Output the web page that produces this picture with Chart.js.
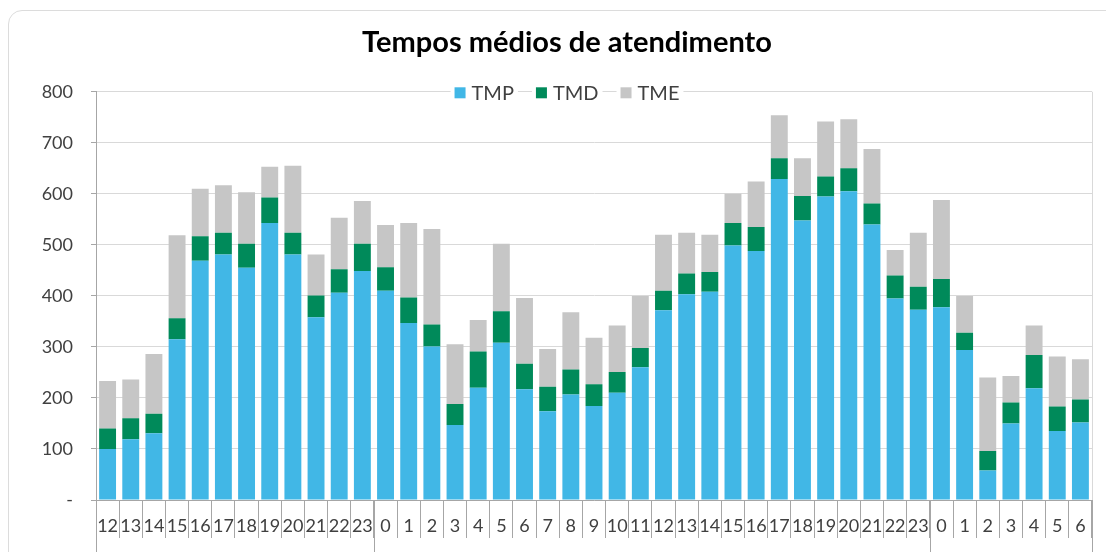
<!DOCTYPE html>
<html lang="pt">
<head>
    <meta charset="UTF-8">
    <title>Tempos médios de atendimento</title>
    <script src="https://cdn.jsdelivr.net/npm/chart.js"></script>
    <style>
        html, body {
            margin: 0;
            padding: 0;
            background: #fff;
            overflow: hidden;
        }

        /* card border around the chart */
        .card {
            position: absolute;
            left: 8px;
            top: 10px;
            width: 1140px;
            height: 600px;
            border: 1px solid #dcdcdc;
            border-radius: 14px;
        }

        .chart-box {
            position: absolute;
            left: 0;
            top: 0;
            width: 1134px;
            height: 552px;
        }
    </style>
</head>
<body>
    <div class="card"></div>
    <div class="chart-box">
        <canvas id="tempos"></canvas>
    </div>

    <script>
        // hours (x categories), three days in a row
        const hours = ['12', '13', '14', '15', '16', '17', '18', '19', '20', '21', '22', '23',
            '0', '1', '2', '3', '4', '5', '6', '7', '8', '9', '10', '11',
            '12', '13', '14', '15', '16', '17', '18', '19', '20', '21', '22', '23',
            '0', '1', '2', '3', '4', '5', '6'];

        // TMP series
        const tmp = [100, 119, 131, 315, 469, 481, 455, 543, 481, 358, 406, 449,
            410, 347, 301, 147, 220, 308, 217, 174, 207, 184, 210, 260,
            372, 403, 408, 499, 488, 629, 548, 595, 605, 540, 395, 373,
            378, 294, 58, 150, 219, 135, 152];

        // TMD series
        const tmd = [40, 41, 38, 41, 48, 43, 47, 50, 43, 43, 46, 53,
            46, 50, 43, 41, 71, 62, 50, 48, 49, 43, 41, 38,
            38, 41, 39, 44, 47, 41, 48, 39, 45, 41, 45, 45,
            55, 34, 38, 41, 65, 48, 45];

        // TME series
        const tme = [93, 76, 117, 163, 93, 93, 101, 60, 131, 80, 101, 84,
            83, 146, 187, 117, 62, 132, 129, 74, 112, 91, 91, 102,
            110, 80, 73, 57, 89, 84, 74, 108, 96, 107, 50, 106,
            155, 72, 144, 52, 58, 98, 79];

        const seriesNames = ['TMP', 'TMD', 'TME'];
        const seriesColors = ['#41b7e6', '#008a5a', '#c6c6c6'];

        const FONT = 'Lato, "Open Sans", sans-serif';

        // legend drawn inside the plot top, like the original
        const insideLegend = {
            id: 'insideLegend',
            afterDraw(chart) {
                const ctx = chart.ctx;
                const box = 11, gapText = 6, gapItem = 22;
                ctx.save();
                ctx.font = '20px ' + FONT;
                ctx.textBaseline = 'middle';
                const widths = chart.data.datasets.map(ds => ctx.measureText(ds.label).width);
                let total = 0;
                widths.forEach(w => total += box + gapText + w);
                total += gapItem * (widths.length - 1);
                let x = chart.width / 2 - total / 2;
                const y = chart.chartArea.top + 1;
                chart.data.datasets.forEach((ds, i) => {
                    // white backdrop so grid line stays behind the text
                    ctx.fillStyle = '#fff';
                    ctx.fillRect(x - 4, y - 11, box + gapText + widths[i] + 8, 22);
                    ctx.fillStyle = ds.backgroundColor;
                    ctx.fillRect(x, y - box / 2, box, box);
                    ctx.fillStyle = '#404040';
                    ctx.fillText(ds.label, x + box + gapText, y + 1);
                    x += box + gapText + widths[i] + gapItem;
                });
                ctx.restore();
            }
        };

        // day separators under the hour labels
        const daySeparators = {
            id: 'daySeparators',
            afterDraw(chart) {
                const ctx = chart.ctx;
                const xs = chart.scales.x;
                const half = (xs.getPixelForValue(1) - xs.getPixelForValue(0)) / 2;
                const bounds = [];
                hours.forEach((h, i) => {
                    if (i === 0 || h === '0') bounds.push(xs.getPixelForValue(i) - half);
                });
                bounds.push(xs.getPixelForValue(hours.length - 1) + half);
                ctx.save();
                ctx.lineWidth = 1;
                ctx.strokeStyle = '#a6a6a6';
                bounds.forEach(b => {
                    const px = Math.round(b) + 0.5;
                    ctx.beginPath();
                    ctx.moveTo(px, chart.chartArea.bottom);
                    ctx.lineTo(px, chart.height);
                    ctx.stroke();
                });
                // right border of plot area
                const r = Math.round(bounds[bounds.length - 1]) + 0.5;
                ctx.strokeStyle = '#d9d9d9';
                ctx.beginPath();
                ctx.moveTo(r, chart.chartArea.top);
                ctx.lineTo(r, chart.chartArea.bottom);
                ctx.stroke();
                ctx.restore();
            }
        };

        const ctx = document.getElementById('tempos').getContext('2d');

        new Chart(ctx, {
            type: 'bar',
            data: {
                labels: hours,
                datasets: [tmp, tmd, tme].map((vals, i) => ({
                    label: seriesNames[i],
                    data: vals,
                    backgroundColor: seriesColors[i],
                    borderWidth: 0,
                    categoryPercentage: 1,
                    barPercentage: 0.73
                }))
            },
            options: {
                responsive: true,
                maintainAspectRatio: false,
                animation: false,
                layout: {
                    padding: 0
                },
                plugins: {
                    legend: { display: false },
                    tooltip: { enabled: false },
                    title: {
                        display: true,
                        text: 'Tempos médios de atendimento',
                        color: '#000',
                        font: { family: FONT, size: 29, weight: 'bold' },
                        padding: { top: 25, bottom: 32 }
                    }
                },
                scales: {
                    x: {
                        stacked: true,
                        afterFit(scale) { scale.height = 52; },
                        border: { color: '#a6a6a6' },
                        grid: {
                            drawOnChartArea: false,
                            drawTicks: true,
                            tickLength: 38,
                            tickColor: '#a6a6a6'
                        },
                        ticks: {
                            autoSkip: false,
                            maxRotation: 0,
                            padding: -23,
                            color: '#404040',
                            font: { family: FONT, size: 18 }
                        }
                    },
                    y: {
                        stacked: true,
                        min: 0,
                        max: 800,
                        afterFit(scale) { scale.width = 96; },
                        border: { color: '#a6a6a6' },
                        grid: {
                            color: '#d9d9d9',
                            tickLength: 5,
                            tickColor: '#a6a6a6'
                        },
                        ticks: {
                            stepSize: 100,
                            padding: 18,
                            color: '#404040',
                            font: { family: FONT, size: 18 },
                            callback: v => (v === 0 ? '-' : v)
                        }
                    },
                    // empty right axis, only keeps the space right of the plot
                    spacer: {
                        position: 'right',
                        afterFit(scale) { scale.width = 42; },
                        border: { display: false },
                        grid: { display: false },
                        ticks: { display: false }
                    }
                }
            },
            plugins: [insideLegend, daySeparators]
        });
    </script>
</body>
</html>
